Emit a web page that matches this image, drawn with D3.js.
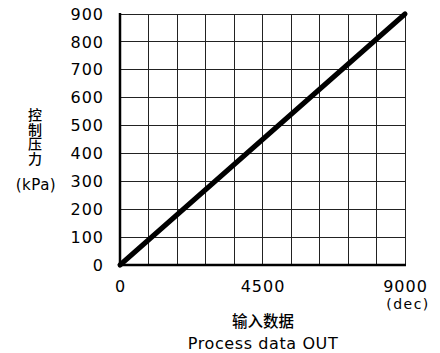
<!DOCTYPE html>
<html>
<head>
<meta charset="utf-8">
<script src="https://cdn.jsdelivr.net/npm/d3@7"></script>
<style>
  html, body { margin: 0; padding: 0; background: #fff; }
  text { font-family: "DejaVu Sans", "Noto Sans CJK SC", sans-serif; fill: #000; }
  .cjk { font-family: "Noto Sans CJK SC", sans-serif; font-weight: 500; }
</style>
</head>
<body>
<svg id="chart" width="440" height="353"></svg>
<script>
// Control pressure vs. process data output
const inputValues = [0, 9000];          // process data OUT (dec)
const pressureValues = [0, 900];        // control pressure (kPa)
const xTickLabels = [0, 4500, 9000];
const yTickLabels = [0, 100, 200, 300, 400, 500, 600, 700, 800, 900];
const xGridValues = [900, 1800, 2700, 3600, 4500, 5400, 6300, 7200, 8100, 9000];
const yTitleText = "控制压力";

const svg = d3.select("#chart");
const plotLeft = 120, plotRight = 405, plotTop = 14, plotBottom = 265;

const x = d3.scaleLinear().domain([0, 9000]).range([plotLeft, plotRight]);
const y = d3.scaleLinear().domain([0, 900]).range([plotBottom, plotTop]);

// grid
const grid = svg.append("g").attr("stroke", "#222").attr("stroke-width", 1).attr("shape-rendering", "crispEdges");
grid.selectAll(".v").data(xGridValues).join("line")
  .attr("x1", d => x(d)).attr("x2", d => x(d))
  .attr("y1", plotTop).attr("y2", plotBottom);
grid.selectAll(".h").data(yTickLabels.slice(1)).join("line")
  .attr("x1", plotLeft).attr("x2", plotRight)
  .attr("y1", d => y(d)).attr("y2", d => y(d));

// main axes (heavier)
svg.append("line").attr("x1", plotLeft).attr("x2", plotLeft).attr("y1", plotTop - 1).attr("y2", plotBottom + 1.5)
  .attr("stroke", "#000").attr("stroke-width", 2.5);
svg.append("line").attr("x1", plotLeft - 1).attr("x2", plotRight + 1).attr("y1", plotBottom).attr("y2", plotBottom)
  .attr("stroke", "#000").attr("stroke-width", 2.5);

// y tick labels
const yAxis = d3.axisLeft(y).tickValues(yTickLabels).tickFormat(d3.format("d")).tickSize(0).tickPadding(16);
const gy = svg.append("g").attr("transform", `translate(${plotLeft},0)`).call(yAxis);
gy.select(".domain").remove();
gy.selectAll("text").style("font-size", "16px").attr("letter-spacing", "1px")
  .attr("font-family", "DejaVu Sans");

// x tick labels
const xAxis = d3.axisBottom(x).tickValues(xTickLabels).tickFormat(d3.format("d")).tickSize(0).tickPadding(16);
const gx = svg.append("g").attr("transform", `translate(0,${plotBottom})`).call(xAxis);
gx.select(".domain").remove();
gx.selectAll("text").style("font-size", "16px").attr("letter-spacing", "1px")
  .attr("font-family", "DejaVu Sans");

// unit under last x tick
svg.append("text").attr("x", x(9000) + 3).attr("y", 309).attr("text-anchor", "middle")
  .style("font-size", "14px").attr("letter-spacing", "1.5px").text("(dec)");

// x axis title
svg.append("text").attr("class", "cjk").attr("x", 263).attr("y", 327).attr("text-anchor", "middle")
  .style("font-size", "15.5px").text("输入数据");
svg.append("text").attr("x", 263).attr("y", 349).attr("text-anchor", "middle")
  .style("font-size", "16px").attr("letter-spacing", "0.6px").text("Process data OUT");

// y axis title, set vertically
svg.append("text").attr("class", "cjk")
  .attr("x", 35).attr("y", 108)
  .style("writing-mode", "vertical-rl")
  .style("font-size", "14px").attr("letter-spacing", "0.5px")
  .text(yTitleText);
svg.append("text").attr("x", 36).attr("y", 190).attr("text-anchor", "middle")
  .style("font-size", "15px").attr("letter-spacing", "0.5px").text("(kPa)");

// characteristic line
const line = d3.line().x((d, i) => x(inputValues[i])).y(d => y(d));
svg.append("path").datum(pressureValues).attr("d", line)
  .attr("fill", "none").attr("stroke", "#000").attr("stroke-width", 5).attr("stroke-linecap", "round");
</script>
</body>
</html>
